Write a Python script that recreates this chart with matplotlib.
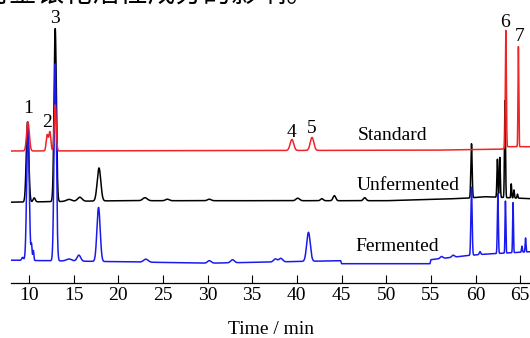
import numpy as np
import matplotlib.pyplot as plt

# retention time grid (min)
t = np.arange(8.0, 66.2, 0.005)

# peak tables: (retention time, height, width) -- heights in plot units above each trace's baseline
standard_peaks = [(9.9, 29, 0.15), (12.05, 16, 0.11), (12.35, 19, 0.11), (12.95, 46, 0.11),
                  (39.45, 11, 0.2), (41.7, 13, 0.2), (63.4, 117, 0.055), (64.8, 100, 0.045)]
unfermented_peaks = [(9.85, 80, 0.14), (10.6, 4, 0.12), (12.95, 173, 0.13), (14.5, 2, 0.3),
                     (15.7, 4, 0.25), (17.85, 33, 0.2), (23.0, 3, 0.25), (25.5, 1.5, 0.2),
                     (30.2, 1.5, 0.2), (40.1, 2.5, 0.2), (42.8, 2, 0.15), (44.2, 5, 0.15),
                     (47.6, 3, 0.15), (59.55, 54, 0.07), (62.45, 38, 0.055), (62.72, 40, 0.055),
                     (63.3, 97, 0.055), (64.0, 14, 0.045), (64.3, 8, 0.05), (64.7, 4, 0.05)]
fermented_peaks = [(9.3, 3, 0.1), (9.9, 135, 0.14), (10.3, 15, 0.06), (10.5, 10, 0.06),
                   (12.95, 197, 0.13), (14.5, 2, 0.3), (15.6, 6, 0.2), (17.8, 54, 0.18),
                   (23.1, 3, 0.25), (30.2, 2.5, 0.2), (32.8, 3, 0.2), (37.6, 3, 0.2),
                   (38.2, 3.5, 0.2), (41.3, 29, 0.2), (56.2, 2, 0.15), (57.5, 2, 0.15),
                   (59.55, 68, 0.07), (60.5, 3, 0.08), (62.5, 60, 0.055), (63.35, 52, 0.045),
                   (64.2, 50, 0.045), (65.2, 6, 0.05), (65.6, 14, 0.045)]

# baselines: (time, level)
standard_base_t = [8.0, 55.0, 63.0, 63.6, 66.2]
standard_base_y = [131.7, 132.5, 133.5, 136.0, 136.0]
unfermented_base_t = [8.0, 20.0, 50.0, 56.0, 59.0, 61.0, 66.2]
unfermented_base_y = [80.5, 82.0, 82.0, 83.5, 84.5, 86.0, 84.0]
fermented_base_t = [8.0, 20.0, 30.0, 36.0, 44.9, 45.0, 54.9, 55.0, 59.0, 61.0, 66.2]
fermented_base_y = [22.5, 21.0, 19.5, 20.5, 22.0, 19.0, 19.0, 23.0, 27.0, 28.5, 31.0]

labels = ['Standard', 'Unfermented', 'Fermented']
label_pos = [(46.8, 147), (46.7, 97), (46.5, 36)]
peak_numbers = ['1', '2', '3', '4', '5', '6', '7']
peak_label_pos = [(9.9, 174), (12.0, 160), (12.95, 264), (39.45, 150), (41.7, 154), (63.3, 260), (64.9, 246)]
xticks = [10, 15, 20, 25, 30, 35, 40, 45, 50, 55, 60, 65]


def trace(base_t, base_y, peaks):
    y = np.interp(t, base_t, base_y)
    for c, h, w in peaks:
        y = y + h * np.exp(-0.5 * ((t - c) / w) ** 2)
    return y


plt.rcParams['font.family'] = ['Liberation Serif', 'DejaVu Serif']

fig = plt.figure(figsize=(5.3, 3.38), dpi=100)
ax = fig.add_axes([11 / 530, 55.3 / 338, 1 - 11 / 530, 1 - 55.3 / 338])

ax.plot(t, trace(unfermented_base_t, unfermented_base_y, unfermented_peaks), color='black', lw=1.1, zorder=2)
ax.plot(t, trace(fermented_base_t, fermented_base_y, fermented_peaks), color='#1a1aee', lw=1.1, zorder=3)
ax.plot(t, trace(standard_base_t, standard_base_y, standard_peaks), color='#f02424', lw=1.1, zorder=4)

for s, (x, y) in zip(peak_numbers, peak_label_pos):
    ax.text(x, y, s, fontsize=14, ha='center', va='center')

for s, (x, y) in zip(labels, label_pos):
    ax.text(x, y, s, fontsize=14, ha='left', va='center')

ax.set_xlim(8.0, 66.1)
ax.set_ylim(0, 282.7)
ax.set_xticks(xticks)
ax.tick_params(axis='x', direction='in', length=6, width=0.8, labelsize=14, pad=3)
ax.set_yticks([])
for side in ['top', 'right', 'left']:
    ax.spines[side].set_visible(False)
ax.spines['bottom'].set_linewidth(0.9)
ax.set_xlabel('Time / min', fontsize=14, labelpad=12)
ax.patch.set_alpha(0)

# caption line cut off at the top of the crop
fig.text(-0.035, 1.0 + 5 / 338, '对金银花活性成分的影响。', fontsize=20, va='center', ha='left',
         family=['Noto Sans CJK SC', 'DejaVu Sans'])

fig.savefig('out.png', dpi=100)
